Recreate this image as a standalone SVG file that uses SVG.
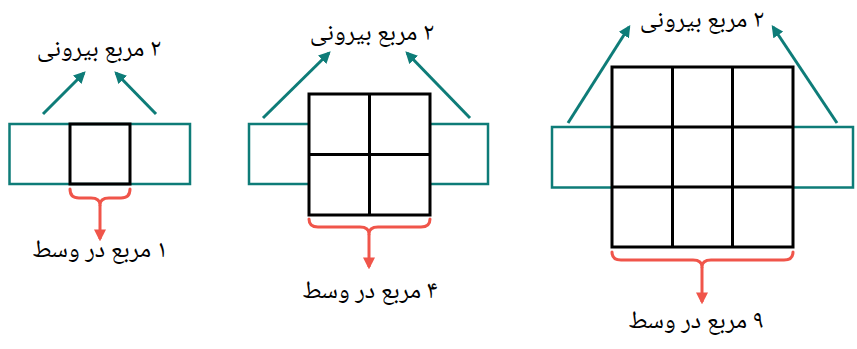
<svg xmlns="http://www.w3.org/2000/svg" width="857" height="349" viewBox="0 0 857 349">
<defs>
<marker id="ah-teal" viewBox="0 0 10 10" refX="8" refY="5" markerWidth="4" markerHeight="4" orient="auto" markerUnits="strokeWidth">
<path d="M0,0 L10,5 L0,10 Z" fill="#0E7C78"/>
</marker>
<marker id="ah-red" viewBox="0 0 10 10" refX="8" refY="5" markerWidth="4" markerHeight="4" orient="auto" markerUnits="strokeWidth">
<path d="M0,0 L10,5 L0,10 Z" fill="#F0554A"/>
</marker>
</defs>
<style>
.teal{fill:none;stroke:#0E7C78;stroke-width:2.5}
.grid{fill:none;stroke:#000;stroke-width:3}
.tarrow{fill:none;stroke:#0E7C78;stroke-width:3;marker-end:url(#ah-teal)}
.brace{fill:none;stroke:#F0554A;stroke-width:3;stroke-linecap:round;stroke-linejoin:round}
.rarrow{fill:none;stroke:#F0554A;stroke-width:3;marker-end:url(#ah-red)}
.lbl{font-family:"Noto Naskh Arabic","DejaVu Sans",sans-serif;font-size:25px;fill:#000;text-anchor:middle}
</style>
<g id="figure1">
<rect class="teal" x="9.5" y="124" width="180.5" height="60"/>
<rect class="grid" x="70" y="124" width="60" height="60"/>
<text class="lbl" x="99" y="56" direction="rtl">۲ مربع بیرونی</text>
<text class="lbl" x="100" y="257" direction="rtl">۱ مربع در وسط</text>
</g>
<g id="figure2">
<rect class="teal" x="249" y="124" width="239" height="60"/>
<rect x="309" y="94" width="121" height="121" fill="#fff"/>
<rect class="grid" x="309" y="94" width="121" height="121"/>
<line class="grid" x1="369.5" y1="94" x2="369.5" y2="215"/>
<line class="grid" x1="309" y1="154.5" x2="430" y2="154.5"/>
<text class="lbl" x="372" y="40" direction="rtl">۲ مربع بیرونی</text>
<text class="lbl" x="370" y="298" direction="rtl">۴ مربع در وسط</text>
</g>
<g id="figure3">
<rect class="teal" x="552" y="127" width="301" height="60.5"/>
<rect x="612" y="67" width="181" height="180" fill="#fff"/>
<rect class="grid" x="612" y="67" width="181" height="180"/>
<line class="grid" x1="672.5" y1="67" x2="672.5" y2="247"/>
<line class="grid" x1="732.5" y1="67" x2="732.5" y2="247"/>
<line class="grid" x1="612" y1="127" x2="793" y2="127"/>
<line class="grid" x1="612" y1="187" x2="793" y2="187"/>
<text class="lbl" x="702" y="27" direction="rtl">۲ مربع بیرونی</text>
<text class="lbl" x="696" y="328" direction="rtl">۹ مربع در وسط</text>
</g>
<g id="connectors">
<line class="tarrow" x1="43" y1="114" x2="84" y2="73"/>
<line class="tarrow" x1="156" y1="114" x2="116" y2="73"/>
<line class="tarrow" x1="263" y1="118" x2="329" y2="53"/>
<line class="tarrow" x1="470" y1="118" x2="407" y2="53"/>
<line class="tarrow" x1="568" y1="123" x2="629" y2="27"/>
<line class="tarrow" x1="837" y1="123" x2="773" y2="27"/>
<path class="brace" d="M70,189 Q70,198 79,198 L91,198 Q100,198 100,205 Q100,198 109,198 L121,198 Q130,198 130,189"/>
<line class="rarrow" x1="100" y1="205" x2="100" y2="239"/>
<path class="brace" d="M309,219 Q309,227 318,227 L360,227 Q369,227 369,234 Q369,227 378,227 L421,227 Q430,227 430,219"/>
<line class="rarrow" x1="369" y1="234" x2="369" y2="267"/>
<path class="brace" d="M612,252 Q612,260 621,260 L693,260 Q702,260 702,267 Q702,260 711,260 L784,260 Q793,260 793,252"/>
<line class="rarrow" x1="702" y1="267" x2="702" y2="302"/>
</g>
</svg>
